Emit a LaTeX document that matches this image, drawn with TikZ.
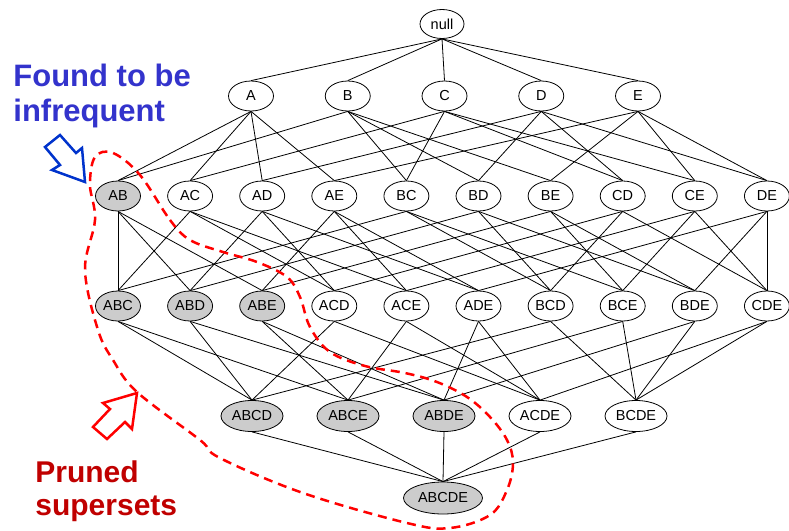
\documentclass[tikz,border=0pt]{standalone}
\usepackage{fontspec}
\setmainfont{Liberation Sans}
\usetikzlibrary{shapes.geometric}
\definecolor{foundblue}{RGB}{51,51,204}
\definecolor{arrowblue}{RGB}{0,51,204}
\definecolor{prunedred}{RGB}{192,0,0}

\begin{document}
\begin{tikzpicture}[x=1pt, y=-1pt, line width=0.8pt,
  item/.style={ellipse, draw, inner sep=0pt, minimum width=45pt, minimum height=30pt, font=\fontsize{14.5}{17}\selectfont},
  wide/.style={item, minimum width=62pt, minimum height=31pt},
  note/.style={anchor=north west, inner sep=0pt, align=left, font=\bfseries\fontsize{31}{35}\selectfont}]
\useasboundingbox (0,0) rectangle (789,530);
% lattice levels
\node[item, minimum width=44pt, minimum height=29pt] (null) at (442,24) {null};
\foreach \s [count=\i from 0] in {A,B,C,D,E}
  \node[item] (\s) at (251+96.75*\i,96) {\s};
\foreach \s/\f [count=\i from 0] in {AB/gray!40,AC/white,AD/white,AE/white,BC/white,BD/white,BE/white,CD/white,CE/white,DE/white}
  \node[item, fill=\f] (\s) at (118+72.1*\i,196) {\s};
\foreach \s/\f [count=\i from 0] in {ABC/gray!40,ABD/gray!40,ABE/gray!40,ACD/white,ACE/white,ADE/white,BCD/white,BCE/white,BDE/white,CDE/white}
  \node[item, fill=\f] (\s) at (118+72.1*\i,306) {\s};
\foreach \s/\f [count=\i from 0] in {ABCD/gray!40,ABCE/gray!40,ABDE/gray!40,ACDE/white,BCDE/white}
  \node[wide, fill=\f] (\s) at (252+96*\i,416) {\s};
\node[wide, minimum width=79pt, minimum height=32pt, fill=gray!40] (ABCDE) at (443,498) {ABCDE};
% subset links
\foreach \p/\cs in {null/{A,B,C,D,E},
    A/{AB,AC,AD,AE}, B/{AB,BC,BD,BE}, C/{AC,BC,CD,CE}, D/{AD,BD,CD,DE}, E/{AE,BE,CE,DE},
    AB/{ABC,ABD,ABE}, AC/{ABC,ACD,ACE}, AD/{ABD,ACD,ADE}, AE/{ABE,ACE,ADE}, BC/{ABC,BCD,BCE},
    BD/{ABD,BCD,BDE}, BE/{ABE,BCE,BDE}, CD/{ACD,BCD,CDE}, CE/{ACE,BCE,CDE}, DE/{ADE,BDE,CDE},
    ABC/{ABCD,ABCE}, ABD/{ABCD,ABDE}, ABE/{ABCE,ABDE}, ACD/{ABCD,ACDE}, ACE/{ABCE,ACDE},
    ADE/{ABDE,ACDE}, BCD/{ABCD,BCDE}, BCE/{ABCE,BCDE}, BDE/{ABDE,BCDE}, CDE/{ACDE,BCDE},
    ABCD/{ABCDE}, ABCE/{ABCDE}, ABDE/{ABCDE}, ACDE/{ABCDE}, BCDE/{ABCDE}}
  \foreach \c in \cs
    \draw (\p.south) -- (\c.north);
% pruned region
\draw[red, line width=2.5pt, dash pattern=on 9pt off 6pt] plot[smooth cycle, tension=0.6] coordinates {
  (140,175) (170,220) (190,240) (223,252) (257,262) (287,277) (300,297) (310,327) (330,352)
  (365,366) (405,373) (437,382) (467,397) (490,417) (507,440) (513,463) (507,490) (490,515)
  (450,528) (407,523) (303,493) (220,458) (200,440) (137,392) (113,360) (98,330) (85,270)
  (95,220) (90,185) (95,157) (113,153)};
% block arrows
\draw[arrowblue, line width=2.5pt, line join=miter] (45,147) -- (60,135) -- (76,153) -- (82,148)
  -- (85,182) -- (52,170) -- (60,165) -- cycle;
\draw[red, line width=2.5pt, line join=miter] (137,393) -- (103,403) -- (110,409) -- (93,427)
  -- (107,439) -- (125,422) -- (132,429) -- cycle;
% notes
\node[note, text=foundblue] (found) at (13,64) {Found to be\\infrequent};
\node[note, text=prunedred, font=\bfseries\fontsize{30}{33.5}\selectfont] (pruned) at (35,460) {Pruned\\supersets};
\end{tikzpicture}
\end{document}
